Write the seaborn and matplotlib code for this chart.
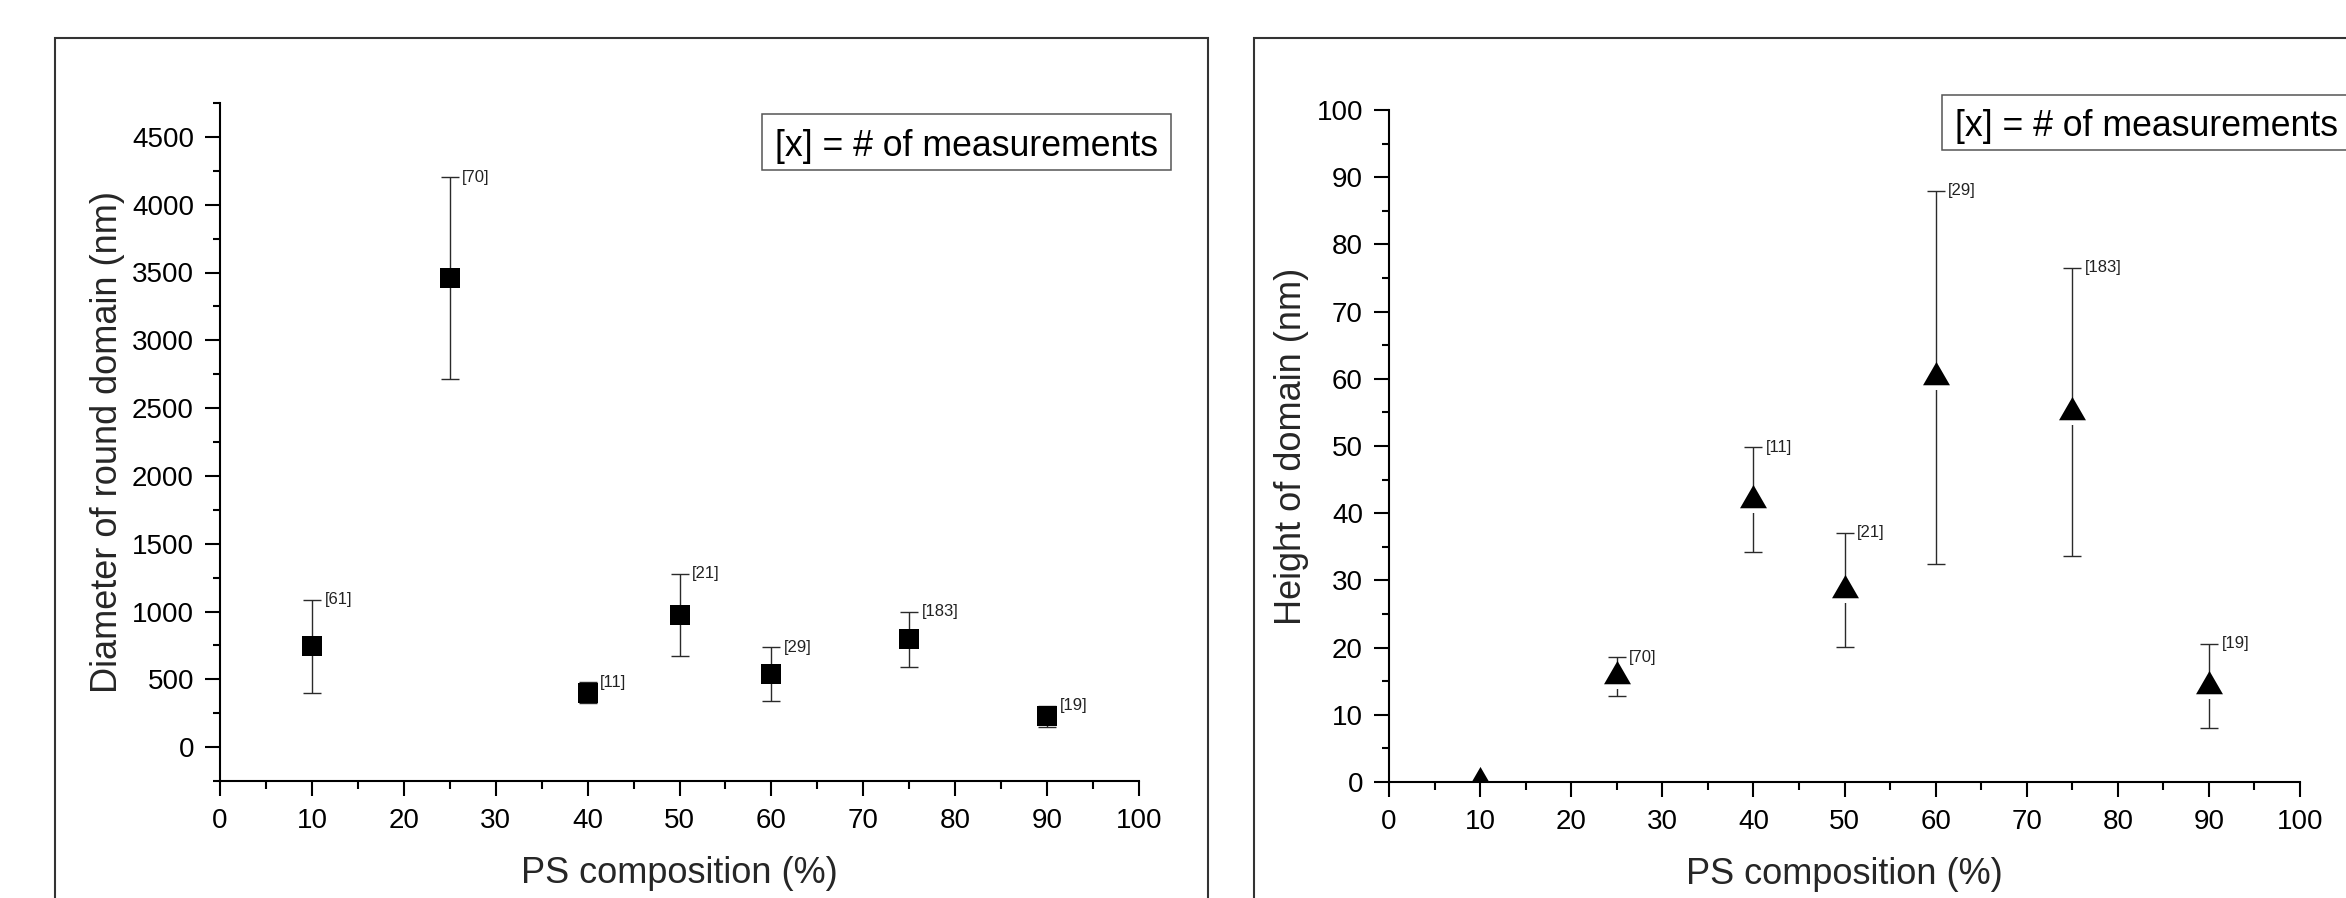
import matplotlib
matplotlib.use("Agg")
import matplotlib.pyplot as plt
from matplotlib.patches import Rectangle
from matplotlib.path import Path
from matplotlib.ticker import MultipleLocator, AutoMinorLocator
import seaborn as sns
import numpy as np

# ---------------- data ----------------
ps_left = [10, 25, 40, 50, 60, 75, 90]
diameter = [743, 3458, 401, 976, 538, 794, 226]
diameter_err = [343, 746, 76, 304, 200, 203, 78]
n_left = ["[61]", "[70]", "[11]", "[21]", "[29]", "[183]", "[19]"]

ps_right = [10, 25, 40, 50, 60, 75, 90]
height = [0, 15.7, 42.0, 28.6, 60.2, 55.1, 14.3]
height_err = [0, 2.9, 7.8, 8.5, 27.8, 21.4, 6.3]
n_right = ["", "[70]", "[11]", "[21]", "[29]", "[183]", "[19]"]

x_label = "PS composition (%)"
y_label_left = "Diameter of round domain (nm)"
y_label_right = "Height of domain (nm)"
note = "[x] = # of measurements"

# ---------------- style ----------------
sns.set_style("ticks")
plt.rcParams["font.family"] = ["Liberation Sans", "DejaVu Sans"]

W, H = 2346, 898
fig = plt.figure(figsize=(W / 100, H / 100), dpi=100)

def fx(px):
    return px / W

def fy(py):
    return 1 - py / H

# outer frames
fig.patches.append(Rectangle((fx(55), -0.1), fx(1208 - 55), fy(38) + 0.1,
                             transform=fig.transFigure, fill=False,
                             edgecolor="#333333", linewidth=1.5, zorder=0))
fig.patches.append(Rectangle((fx(1254), -0.1), 0.6, fy(38) + 0.1,
                             transform=fig.transFigure, fill=False,
                             edgecolor="#333333", linewidth=1.5, zorder=0))

axL = fig.add_axes([fx(220), fy(781), fx(1139 - 220), (781 - 103) / H])
axR = fig.add_axes([fx(1389), fy(782), fx(2300 - 1389), (782 - 110) / H])

ERR_COLOR = "#2a2a2a"

def style_axis(ax, ylim, ymajor):
    ax.set_xlim(0, 100)
    ax.set_ylim(*ylim)
    ax.xaxis.set_major_locator(MultipleLocator(10))
    ax.xaxis.set_minor_locator(AutoMinorLocator(2))
    ax.yaxis.set_major_locator(MultipleLocator(ymajor))
    ax.yaxis.set_minor_locator(AutoMinorLocator(2))
    for s in ["top", "right"]:
        ax.spines[s].set_visible(False)
    for s in ["left", "bottom"]:
        ax.spines[s].set_linewidth(1.5)
        ax.spines[s].set_color("black")
    ax.tick_params(axis="both", which="major", direction="out", length=10.8,
                   width=1.5, labelsize=20, colors="black")
    ax.tick_params(axis="both", which="minor", direction="out", length=5.4,
                   width=1.5, colors="black")
    ax.tick_params(axis="y", which="major", pad=8)
    ax.tick_params(axis="x", which="major", pad=8.8)
    ax.set_xlabel(x_label, fontsize=26, labelpad=16)
    ax.set_facecolor("white")

def draw_errors(ax, xs, ys, es, labels):
    xs = np.asarray(xs, float)
    ys = np.asarray(ys, float)
    es = np.asarray(es, float)
    m = es > 0
    ax.errorbar(xs[m], ys[m], yerr=es[m], fmt="none", ecolor=ERR_COLOR,
                elinewidth=1.0, capsize=6.2, capthick=1.0, zorder=2)
    for x, y, e, lab in zip(xs, ys, es, labels):
        if lab:
            ax.annotate(lab, xy=(x, y + e), xytext=(9, 0),
                        textcoords="offset points", ha="left", va="center",
                        fontsize=12, color="#222222")

# ---------------- left panel ----------------
style_axis(axL, (-250, 4750), 500)
draw_errors(axL, ps_left, diameter, diameter_err, n_left)
sns.scatterplot(x=ps_left, y=diameter, ax=axL, marker="s", s=13.7 ** 2,
                color="black", edgecolor="black", linewidth=0, zorder=3)
axL.set_ylabel(y_label_left, fontsize=26, labelpad=5)

# ---------------- right panel ----------------
style_axis(axR, (0, 100), 10)
draw_errors(axR, ps_right, height, height_err, n_right)
# white box hiding the error bar inside the symbol's bounding square
sns.scatterplot(x=ps_right, y=height, ax=axR, marker="s", s=19.4 ** 2,
                color="white", edgecolor="white", linewidth=0, zorder=2.1)
tri = Path([(-1, -0.577), (1, -0.577), (0, 1.155), (-1, -0.577)],
           [Path.MOVETO, Path.LINETO, Path.LINETO, Path.CLOSEPOLY])
sns.scatterplot(x=ps_right, y=height, ax=axR, marker=tri, s=22.4 ** 2,
                color="black", edgecolor="black", linewidth=0, zorder=2.2)
axR.set_ylabel(y_label_right, fontsize=26, labelpad=5)

# ---------------- notes ----------------
fig.patches.append(Rectangle((fx(762), fy(170)), fx(1171 - 762), (170 - 114) / H,
                             transform=fig.transFigure, fill=True, facecolor="white",
                             edgecolor="#555555", linewidth=1.1, zorder=5))
fig.text(fx(775), fy(142), note, fontsize=25.7, ha="left", va="center_baseline",
         color="black", zorder=6)
fig.patches.append(Rectangle((fx(1942), fy(150)), 0.3, (150 - 95) / H,
                             transform=fig.transFigure, fill=True, facecolor="white",
                             edgecolor="#555555", linewidth=1.1, zorder=5))
fig.text(fx(1955), fy(122.5), note, fontsize=25.7, ha="left", va="center_baseline",
         color="black", zorder=6)

fig.savefig("out.png", dpi=100, facecolor="white")
